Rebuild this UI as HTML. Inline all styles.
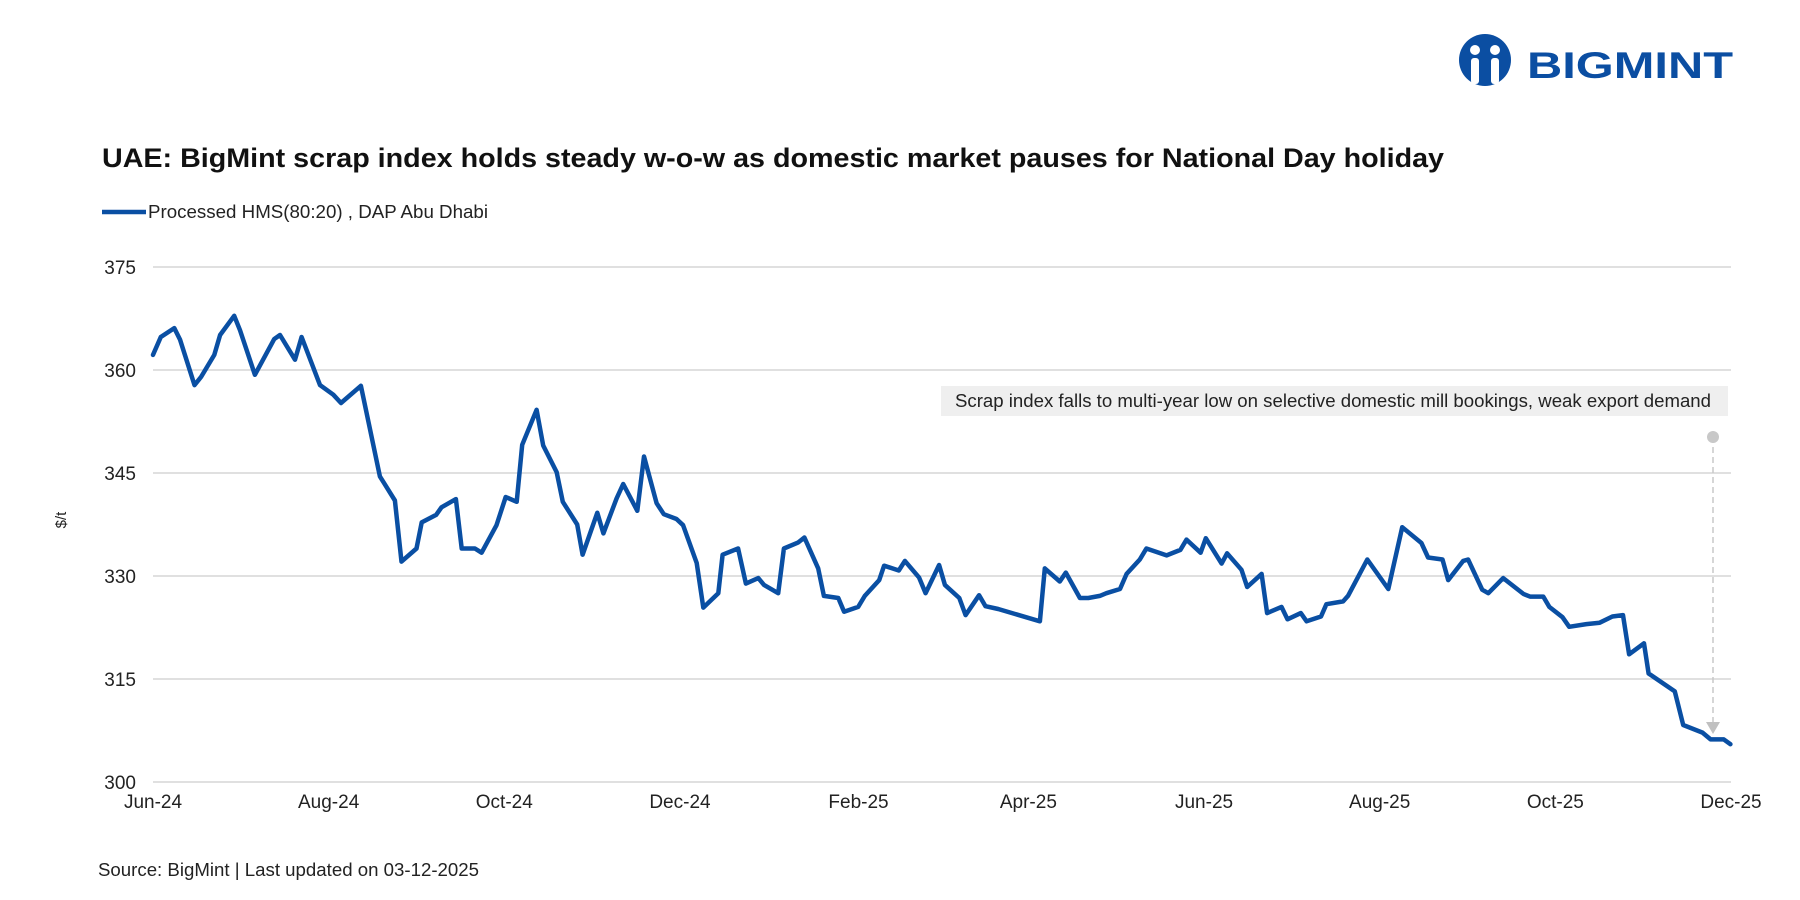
<!DOCTYPE html>
<html><head><meta charset="utf-8"><style>
body{margin:0;background:#fff;}
svg{display:block;font-family:"Liberation Sans",sans-serif;}
</style></head><body>
<svg width="1800" height="900" viewBox="0 0 1800 900" id="chart">
<g>
<circle cx="1485" cy="60" r="26" fill="#0b4ea2"/>
<circle cx="1475" cy="50" r="5" fill="#fff"/><circle cx="1495" cy="50" r="5" fill="#fff"/>
<rect x="1471" y="58" width="8" height="26" rx="3" fill="#fff"/><rect x="1491" y="58" width="8" height="26" rx="3" fill="#fff"/>
<text x="1527" y="78" font-size="37" font-weight="bold" fill="#0b4ea2" textLength="206" lengthAdjust="spacingAndGlyphs">BIGMINT</text>
</g>
<text x="102" y="167" font-size="27" font-weight="bold" fill="#111" textLength="1342" lengthAdjust="spacingAndGlyphs">UAE: BigMint scrap index holds steady w-o-w as domestic market pauses for National Day holiday</text>
<g>
<line x1="102" y1="212" x2="146" y2="212" stroke="#0a4fa3" stroke-width="4.5"/>
<text x="148" y="218" font-size="18" fill="#222" textLength="340" lengthAdjust="spacingAndGlyphs">Processed HMS(80:20) , DAP Abu Dhabi</text>
</g>
<text transform="translate(66,520) rotate(-90)" text-anchor="middle" font-size="15" fill="#222">$/t</text>
<g id="grid"></g><g id="ylabels"></g><g id="xlabels"></g>
<rect x="941" y="386" width="787" height="30" fill="#efefef"/>
<text x="955" y="407" font-size="18" fill="#222" textLength="756" lengthAdjust="spacingAndGlyphs">Scrap index falls to multi-year low on selective domestic mill bookings, weak export demand</text>
<line x1="1713" y1="437" x2="1713" y2="722" stroke="#c8c8c8" stroke-width="1.5" stroke-dasharray="6,4"/>
<circle cx="1713" cy="437" r="6" fill="#c8c8c8"/>
<polygon points="1706,722 1720,722 1713,734" fill="#c0c0c0"/>
<path id="series" fill="none" stroke="#0a4fa3" stroke-width="4.5" stroke-linejoin="round" stroke-linecap="round"/>
<text x="98" y="876" font-size="18" fill="#222" textLength="381" lengthAdjust="spacingAndGlyphs">Source: BigMint | Last updated on 03-12-2025</text>
</svg>
<script>
const days=[0,2.7,7.4,9.4,14.4,16.7,21.3,23.3,28.2,30.2,35.4,42.1,44.1,49.3,51.6,58,62.6,65.3,72.2,78.8,84,86.3,91.5,93.3,98.3,100.2,105.2,107.2,111.8,114.1,119.3,122.5,126.3,128.2,133.2,135.5,140.2,142.3,147.3,149.2,154.3,156.4,161,163.3,168.2,170.5,174.9,177.4,181.8,184.1,188.8,191.1,196.3,197.8,203.2,205.9,210.2,212.2,217.1,219.1,224.1,226.2,231,233,238,240,244.9,247.2,252.2,253.9,259,261.1,266,268.3,273,275,280,282.2,286.9,289.1,293.5,308,309.7,314.9,317,321.9,324.8,328.8,331.1,335.8,338.1,342.7,345,352,356.8,358.9,363.8,365.6,371.1,373,378,380,385,386.9,391.9,394,398.6,400.6,405.6,407.5,413.3,415,421.7,429,433.8,440.5,442.8,447.8,449.8,455,456.7,461.6,463.7,468.9,475.9,478.2,482.8,484.9,489.5,491.8,497.8,502.4,506.8,510.5,512.6,517.8,519.4,528.5,531.4,538.1,540.9,545.5,547.8];
const prices=[362.2,364.8,366.1,364.4,357.8,359.0,362.2,365.1,367.9,365.8,359.3,364.5,365.1,361.5,364.8,357.8,356.4,355.2,357.7,344.5,341.0,332.1,334.0,337.8,338.9,340.0,341.2,334.0,334.0,333.4,337.4,341.5,340.8,349.1,354.2,349.0,345.1,340.8,337.5,333.1,339.2,336.2,341.3,343.4,339.5,347.4,340.6,339.0,338.3,337.4,331.9,325.4,327.5,333.1,334.0,328.9,329.7,328.7,327.5,334.0,334.9,335.6,331.1,327.1,326.8,324.8,325.5,327.1,329.4,331.5,330.8,332.2,329.8,327.5,331.6,328.7,326.8,324.3,327.2,325.6,325.2,323.4,331.1,329.2,330.5,326.8,326.8,327.1,327.5,328.1,330.3,332.4,334.0,333.0,333.8,335.3,333.4,335.5,331.8,333.3,330.9,328.4,330.3,324.6,325.5,323.7,324.6,323.4,324.1,325.9,326.3,327.1,332.4,328.1,337.1,334.8,332.7,332.4,329.4,332.2,332.4,328.0,327.5,329.7,327.4,327.0,327.0,325.5,324.0,322.6,323.0,323.2,324.1,324.3,318.6,320.2,315.8,313.2,308.3,307.2,306.2,306.2,305.5];
const yTicks=[300,315,330,345,360,375];
const xTickLabels=["Jun-24","Aug-24","Oct-24","Dec-24","Feb-25","Apr-25","Jun-25","Aug-25","Oct-25","Dec-25"];
const xTickDays=[0,61,122,183,245,304,365,426,487,548];
const X0=153,X1=1731,Y0=782,Y1=267,DMAX=548;
function xs(d){return X0+(X1-X0)*d/DMAX;}
function ys(v){return Y0-(Y0-Y1)*(v-300)/75;}
const NS="http://www.w3.org/2000/svg";
const grid=document.getElementById('grid'),yl=document.getElementById('ylabels'),xl=document.getElementById('xlabels');
yTicks.forEach(t=>{
 const l=document.createElementNS(NS,'line');
 l.setAttribute('x1',X0);l.setAttribute('x2',X1);l.setAttribute('y1',ys(t));l.setAttribute('y2',ys(t));
 l.setAttribute('stroke','#d6d6d6');l.setAttribute('stroke-width','1.5');
 
 
 grid.appendChild(l);
 const tx=document.createElementNS(NS,'text');
 tx.setAttribute('x',136);tx.setAttribute('y',ys(t)+7);tx.setAttribute('text-anchor','end');
 tx.setAttribute('font-size','19');tx.setAttribute('fill','#222');tx.textContent=t;
 
 
 yl.appendChild(tx);
});
xTickLabels.forEach((s,i)=>{
 const tx=document.createElementNS(NS,'text');
 tx.setAttribute('x',xs(xTickDays[i]));tx.setAttribute('y',808);tx.setAttribute('text-anchor','middle');
 tx.setAttribute('font-size','19');tx.setAttribute('fill','#222');tx.textContent=s;
 
 
 xl.appendChild(tx);
});
document.getElementById('series').setAttribute('d',days.map((d,i)=>(i?'L':'M')+xs(d).toFixed(1)+','+ys(prices[i]).toFixed(1)).join(''));
</script>
</body></html>
